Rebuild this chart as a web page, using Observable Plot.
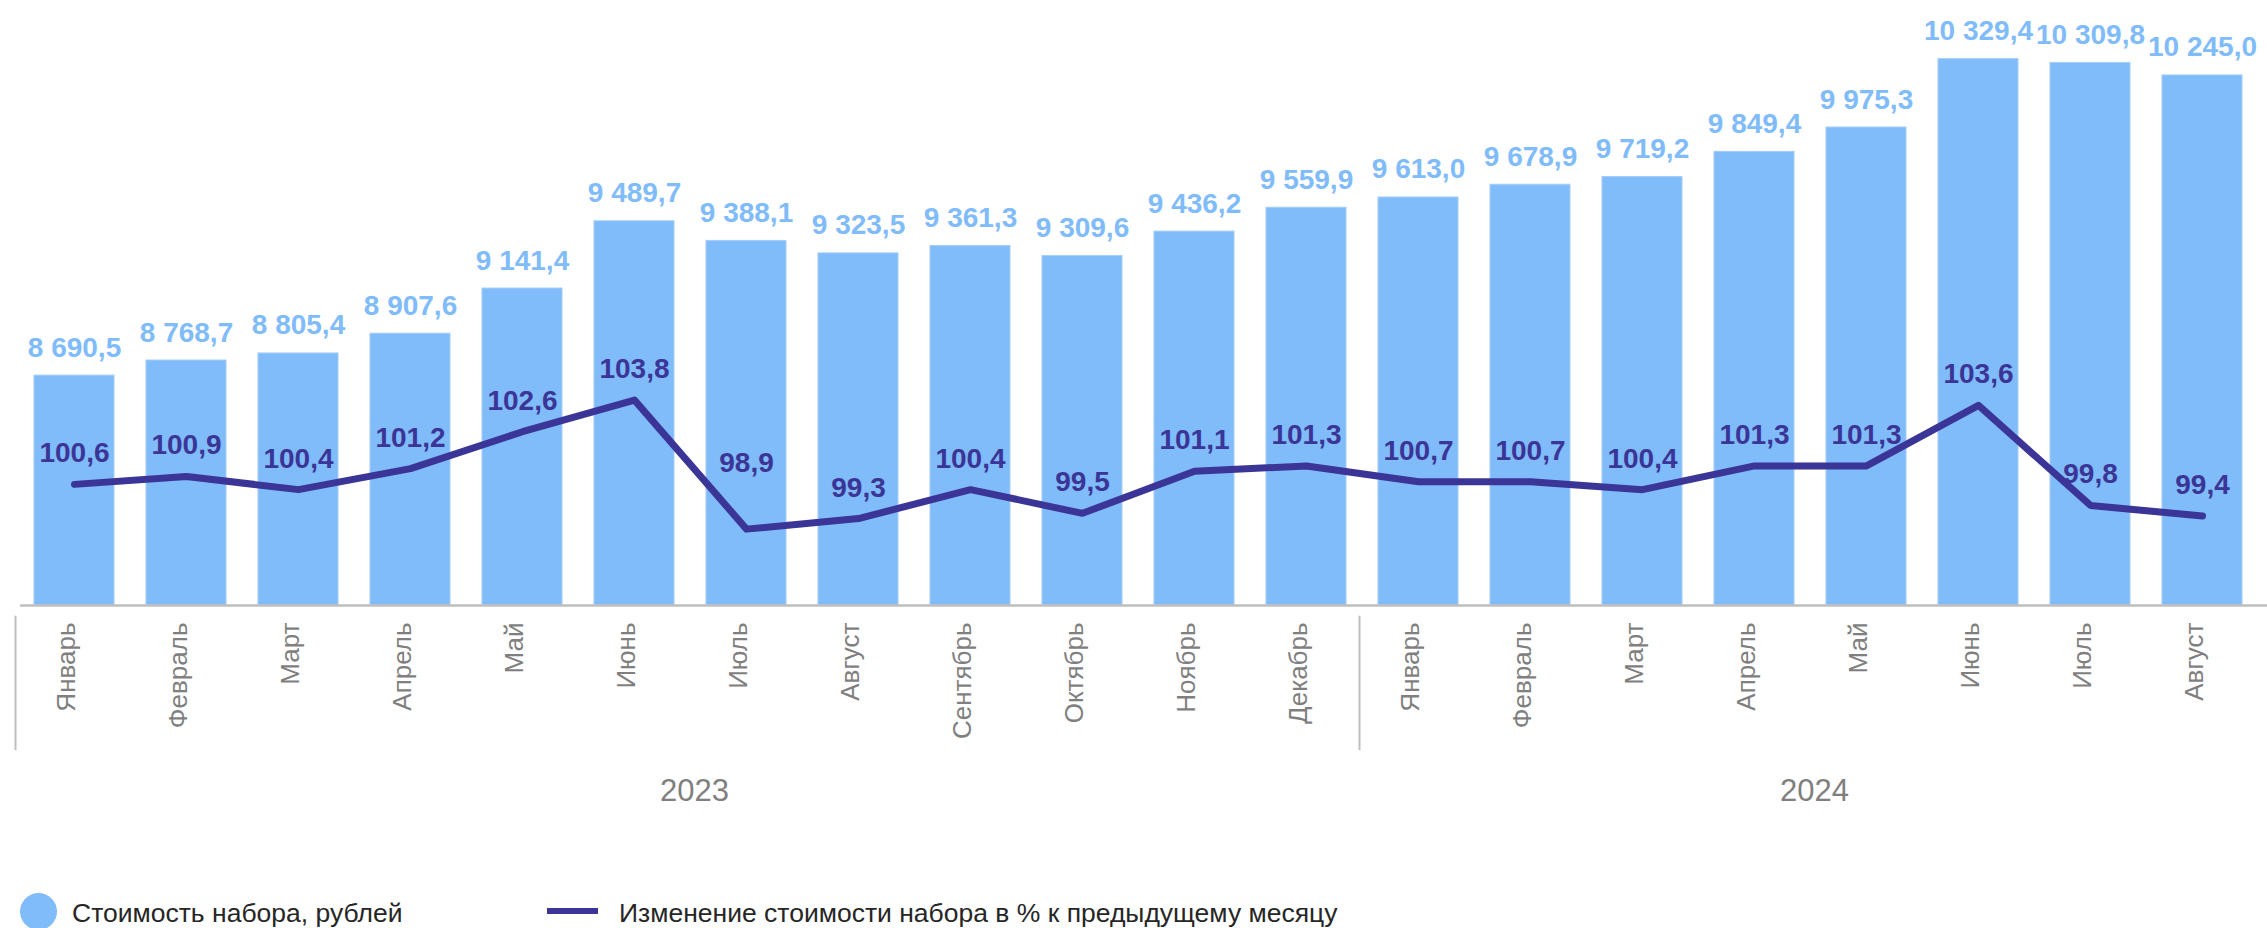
<!DOCTYPE html>
<html>
<head>
<meta charset="utf-8">
<script src="https://cdn.jsdelivr.net/npm/d3@7"></script>
<script src="https://cdn.jsdelivr.net/npm/@observablehq/plot@0.6"></script>
<style>
  html, body { margin: 0; padding: 0; background: #fff; }
  #wrap { position: relative; width: 2267px; height: 928px; overflow: hidden; font-family: "Liberation Sans", Arial, sans-serif; }
  #wrap svg { position: absolute; left: 0; top: 0; background: transparent; }
  .leg { position: absolute; font-size: 26.5px; line-height: 26px; color: #262626; white-space: nowrap; }
</style>
</head>
<body>
<div id="wrap"></div>
<script>
// ---- data ----
const years = ["2023", "2024"];
const months2023 = ["Январь","Февраль","Март","Апрель","Май","Июнь","Июль","Август","Сентябрь","Октябрь","Ноябрь","Декабрь"];
const months2024 = ["Январь","Февраль","Март","Апрель","Май","Июнь","Июль","Август"];
const costs = [8690.5, 8768.7, 8805.4, 8907.6, 9141.4, 9489.7, 9388.1, 9323.5, 9361.3, 9309.6, 9436.2, 9559.9,
               9613.0, 9678.9, 9719.2, 9849.4, 9975.3, 10329.4, 10309.8, 10245.0];
const changes = [100.6, 100.9, 100.4, 101.2, 102.6, 103.8, 98.9, 99.3, 100.4, 99.5, 101.1, 101.3,
                 100.7, 100.7, 100.4, 101.3, 101.3, 103.6, 99.8, 99.4];
const legendLabels = ["Стоимость набора, рублей", "Изменение стоимости набора в % к предыдущему месяцу"];

// ---- build table ----
const monthsByYear = [months2023, months2024];
const rows = [];
monthsByYear.forEach((ms, yi) => ms.forEach((m, mi) => {
  const i = rows.length;
  rows.push({key: years[yi] + "-" + mi, year: years[yi], month: m, mi, n: ms.length, cost: costs[i], change: changes[i],
             drop: i > 0 ? changes[i - 1] - changes[i] : 0});
}));
const yearRows = rows.filter(r => r.mi === Math.floor((r.n - 1) / 2));
const firstRows = rows.filter(r => r.mi === 0);
const steep = rows.filter(r => r.drop > 4);
const normal = rows.filter(r => r.drop <= 4);

const loc = d3.formatLocale({decimal: ",", thousands: " ", grouping: [3], currency: ["", ""]});
const fmt = loc.format(",.1f");

const W = 2267, H = 875, MT = 25.7, MB = 270, ML = 16.2, MR = 8.4;
const BAR = "#80bbfa", LINE = "#3a3596", GRAY = "#7f7f7f", AXIS = "#bfbfbf";
const font = "Liberation Sans, Arial, sans-serif";
const xOpts = {type: "band", domain: rows.map(r => r.key), paddingInner: 0.29, paddingOuter: 0.145, axis: null};

const p1 = Plot.plot({
  width: W, height: H, marginTop: MT, marginBottom: MB, marginLeft: ML, marginRight: MR,
  style: {fontFamily: font, background: "transparent", overflow: "visible"},
  x: xOpts,
  y: {domain: [7500, 10500], axis: null},
  marks: [
    Plot.barY(rows, {x: "key", y1: 7500, y2: "cost", fill: BAR, stroke: "#a3cdfb", strokeWidth: 1}),
    Plot.ruleY([7500], {stroke: AXIS, strokeWidth: 2.5, insetLeft: 3.8, insetRight: -8.4}),
    Plot.text(rows, {x: "key", y: "cost", text: d => fmt(d.cost), dy: -19, lineAnchor: "bottom",
      fill: BAR, fontSize: 28, fontWeight: "bold"}),
    Plot.text(rows, {x: "key", frameAnchor: "bottom", text: "month", rotate: -90, textAnchor: "end",
      dy: 17, fill: GRAY, fontSize: 26}),
    Plot.ruleX(firstRows, {x: "key", dx: -59, stroke: AXIS, strokeWidth: 2, insetTop: 590, insetBottom: -145}),
    Plot.text(yearRows, {x: "key", frameAnchor: "bottom", text: "year", dx: 60, dy: 195,
      fill: GRAY, fontSize: 31})
  ]
});

const p2 = Plot.plot({
  width: W, height: H, marginTop: MT, marginBottom: MB, marginLeft: ML, marginRight: MR,
  style: {fontFamily: font, background: "transparent", overflow: "visible"},
  x: xOpts,
  y: {domain: [96, 118], axis: null},
  marks: [
    Plot.line(rows, {x: "key", y: "change", stroke: LINE, strokeWidth: 7, strokeLinecap: "round", strokeLinejoin: "round"}),
    Plot.text(normal, {x: "key", y: "change", text: d => fmt(d.change), dy: -31,
      fill: LINE, fontSize: 28, fontWeight: "bold"}),
    Plot.text(steep, {x: "key", y: "change", text: d => fmt(d.change), dy: -66,
      fill: LINE, fontSize: 28, fontWeight: "bold"})
  ]
});

const wrap = document.getElementById("wrap");
wrap.appendChild(p1);
wrap.appendChild(p2);

// ---- legend ----
const dot = document.createElement("div");
Object.assign(dot.style, {position: "absolute", left: "20px", top: "893px", width: "37px", height: "37px",
  borderRadius: "50%", background: BAR});
wrap.appendChild(dot);
const t1 = document.createElement("div");
t1.className = "leg"; t1.style.left = "72px"; t1.style.top = "900px"; t1.textContent = legendLabels[0];
wrap.appendChild(t1);
const ln = document.createElement("div");
Object.assign(ln.style, {position: "absolute", left: "547px", top: "908px", width: "51px", height: "6px", background: LINE});
wrap.appendChild(ln);
const t2 = document.createElement("div");
t2.className = "leg"; t2.style.left = "619px"; t2.style.top = "900px"; t2.textContent = legendLabels[1];
wrap.appendChild(t2);
</script>
</body>
</html>
